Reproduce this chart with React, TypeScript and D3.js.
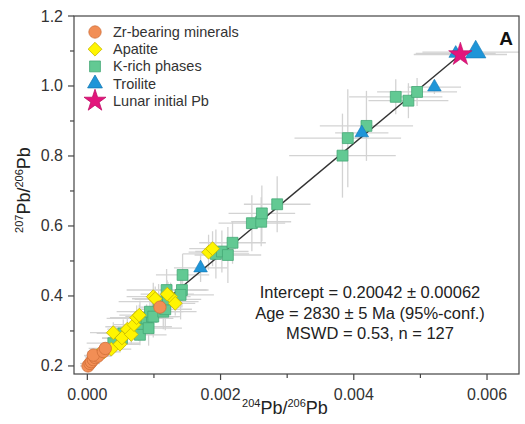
import React from "react";
import * as d3 from "d3";

// ---- data ----
const zrX = [0.00001, 0.00004, 0.00006, 0.00009, 0.00012, 0.00016, 0.00009, 0.00024, 0.00027, 0.00109];
const zrY = [0.200, 0.207, 0.212, 0.218, 0.224, 0.228, 0.231, 0.241, 0.250, 0.368];
const zrXErr = [0.00012, 0.00015, 0.0001, 0.00012, 0.00015, 0.0002, 0.0001, 0.0002, 0.00025, 0.0003];
const zrYErr = [0.008, 0.01, 0.01, 0.01, 0.012, 0.012, 0.01, 0.015, 0.015, 0.03];

const apX = [0.00015, 0.00025, 0.00036, 0.00049, 0.00039, 0.00052, 0.0006, 0.00066, 0.0007, 0.00074, 0.00078, 0.00099, 0.00102, 0.00125, 0.00132, 0.0012, 0.00182, 0.00188];
const apY = [0.230, 0.240, 0.248, 0.262, 0.295, 0.280, 0.305, 0.290, 0.318, 0.338, 0.345, 0.398, 0.392, 0.398, 0.379, 0.405, 0.525, 0.535];
const apXErr = [0.0002, 0.00025, 0.0003, 0.0003, 0.00035, 0.0003, 0.0003, 0.00035, 0.0003, 0.0004, 0.0003, 0.0004, 0.00035, 0.0003, 0.0003, 0.0004, 0.0003, 0.00035];
const apYErr = [0.015, 0.02, 0.02, 0.02, 0.03, 0.025, 0.03, 0.03, 0.03, 0.035, 0.03, 0.04, 0.035, 0.04, 0.035, 0.04, 0.05, 0.05];

const kX = [0.00039, 0.00052, 0.00054, 0.00077, 0.00079, 0.00079, 0.00089, 0.00092, 0.00097, 0.00094, 0.00099, 0.00107, 0.00114, 0.00117, 0.00121, 0.00119, 0.00142, 0.0014, 0.00143, 0.00193, 0.00202, 0.00211, 0.00218, 0.00247, 0.00261, 0.00262, 0.00285, 0.00383, 0.00391, 0.00419, 0.00463, 0.00482, 0.00495];
const kY = [0.265, 0.279, 0.293, 0.312, 0.289, 0.336, 0.336, 0.308, 0.341, 0.355, 0.341, 0.384, 0.355, 0.362, 0.390, 0.417, 0.417, 0.403, 0.460, 0.520, 0.527, 0.517, 0.552, 0.608, 0.612, 0.636, 0.662, 0.801, 0.851, 0.886, 0.969, 0.958, 0.983];
const kXErr = [0.0004, 0.0003, 0.0004, 0.0005, 0.0004, 0.0005, 0.0004, 0.0005, 0.0004, 0.0005, 0.0004, 0.0006, 0.0005, 0.0004, 0.0005, 0.0006, 0.0004, 0.0005, 0.0004, 0.0005, 0.0004, 0.0005, 0.0005, 0.0005, 0.00045, 0.0005, 0.0005, 0.0008, 0.0008, 0.0007, 0.0007, 0.0006, 0.0006];
const kYErr = [0.03, 0.03, 0.04, 0.04, 0.03, 0.05, 0.04, 0.05, 0.05, 0.04, 0.06, 0.05, 0.05, 0.06, 0.05, 0.06, 0.05, 0.07, 0.06, 0.07, 0.06, 0.08, 0.06, 0.08, 0.07, 0.08, 0.08, 0.12, 0.14, 0.1, 0.05, 0.05, 0.04];

const trX = [0.0017, 0.00412, 0.00521, 0.00553, 0.00583];
const trY = [0.480, 0.866, 0.997, 1.093, 1.097];
const trXErr = [0.0004, 0.0004, 0.0004, 0.0006, 0.0008];
const trYErr = [0.04, 0.015, 0.02, 0.01, 0.01];
const trBig = [false, false, false, false, true];

const starX = [0.0056];
const starY = [1.090];
const starXErr = [0.0007];
const starYErr = [0.006];

const interceptY = 0.20042;

const xTicks = [0, 0.002, 0.004, 0.006];
const xMinor = [0.001, 0.003, 0.005];
const yTicks = [0.2, 0.4, 0.6, 0.8, 1.0, 1.2];
const yMinor = [0.3, 0.5, 0.7, 0.9, 1.1];

const legendLabels = ["Zr-bearing minerals", "Apatite", "K-rich phases", "Troilite", "Lunar initial Pb"];
const statLines = ["Intercept = 0.20042 ± 0.00062", "Age = 2830 ± 5 Ma (95%-conf.)", "MSWD = 0.53, n = 127"];

// ---- styles ----
const W = 525, H = 424;
const L = 74, R = 519, T = 16, B = 374;
const FONT = "'Liberation Sans', Arial, sans-serif";
const C = {
  zr: { fill: "#F28E55", stroke: "#D0703A" },
  ap: { fill: "#FFF500", stroke: "#C9B800" },
  k: { fill: "#62C993", stroke: "#45A876" },
  tr: { fill: "#1E95D8", stroke: "#1479B5" },
  st: { fill: "#E3157C", stroke: "#C00E66" },
};

const x = d3.scaleLinear().domain([-0.0002, 0.00648]).range([L, R]);
const y = d3.scaleLinear().domain([0.177, 1.2]).range([B, T]);

const symCircle = d3.symbol().type(d3.symbolCircle).size(120)() as string;
const symDiamond = d3.symbol().type(d3.symbolSquare).size(95)() as string;
const symSquare = d3.symbol().type(d3.symbolSquare).size(118)() as string;
const symTri = d3.symbol().type(d3.symbolTriangle).size(80)() as string;
const symTriBig = d3.symbol().type(d3.symbolTriangle).size(180)() as string;
const symStar = d3.symbol().type(d3.symbolStar).size(170)() as string;

function ErrBars({ xs, ys, xe, ye }: { xs: number[]; ys: number[]; xe: number[]; ye: number[] }) {
  return (
    <g stroke="#d3d3d3" strokeWidth={1.3}>
      {xs.map((v, i) => (
        <g key={i}>
          <line x1={x(v - xe[i])} x2={x(v + xe[i])} y1={y(ys[i])} y2={y(ys[i])} />
          <line x1={x(v)} x2={x(v)} y1={y(ys[i] - ye[i])} y2={y(ys[i] + ye[i])} />
        </g>
      ))}
    </g>
  );
}

export default function App() {
  const lineGen = d3.line<[number, number]>().x((d) => x(d[0])).y((d) => y(d[1]));
  const slope = (starY[0] - interceptY) / starX[0];
  const regPts: [number, number][] = [
    [0, interceptY],
    [starX[0], interceptY + slope * starX[0]],
  ];
  return (
    <svg width={W} height={H} style={{ position: "absolute", left: 0, top: 0, background: "#fff" }} fontFamily={FONT}>
      <defs>
        <clipPath id="plot">
          <rect x={L} y={T} width={R - L} height={B - T} />
        </clipPath>
      </defs>
      <rect x={0} y={0} width={W} height={H} fill="#fff" />
      <g clipPath="url(#plot)">
        <ErrBars xs={kX} ys={kY} xe={kXErr} ye={kYErr} />
        <ErrBars xs={apX} ys={apY} xe={apXErr} ye={apYErr} />
        <ErrBars xs={zrX} ys={zrY} xe={zrXErr} ye={zrYErr} />
        <ErrBars xs={trX} ys={trY} xe={trXErr} ye={trYErr} />
        <ErrBars xs={starX} ys={starY} xe={starXErr} ye={starYErr} />
        <path d={lineGen(regPts) as string} stroke="#333" strokeWidth={1.4} fill="none" />
        {kX.map((v, i) => (
          <path key={"k" + i} d={symSquare} transform={`translate(${x(v)},${y(kY[i])})`} fill={C.k.fill} stroke={C.k.stroke} strokeWidth={0.8} />
        ))}
        {apX.map((v, i) => (
          <path key={"a" + i} d={symDiamond} transform={`translate(${x(v)},${y(apY[i])}) rotate(45)`} fill={C.ap.fill} stroke={C.ap.stroke} strokeWidth={0.8} />
        ))}
        {zrX.map((v, i) => (
          <path key={"z" + i} d={symCircle} transform={`translate(${x(v)},${y(zrY[i])})`} fill={C.zr.fill} stroke={C.zr.stroke} strokeWidth={0.8} />
        ))}
        {trX.map((v, i) => (
          <path key={"t" + i} d={trBig[i] ? symTriBig : symTri} transform={`translate(${x(v)},${y(trY[i])})`} fill={C.tr.fill} stroke={C.tr.stroke} strokeWidth={0.6} />
        ))}
        {starX.map((v, i) => (
          <path key={"s" + i} d={symStar} transform={`translate(${x(v)},${y(starY[i])})`} fill={C.st.fill} stroke={C.st.stroke} strokeWidth={0.6} />
        ))}
      </g>
      {/* frame */}
      <rect x={L} y={T} width={R - L} height={B - T} fill="none" stroke="#444" strokeWidth={1.2} />
      {/* ticks */}
      <g stroke="#444" strokeWidth={1.2}>
        {xTicks.map((t) => (
          <line key={t} x1={x(t)} x2={x(t)} y1={B} y2={B + 6} />
        ))}
        {xMinor.map((t) => (
          <line key={t} x1={x(t)} x2={x(t)} y1={B} y2={B + 4} />
        ))}
        {yTicks.map((t) => (
          <line key={t} x1={L - 6} x2={L} y1={y(t)} y2={y(t)} />
        ))}
        {yMinor.map((t) => (
          <line key={t} x1={L - 4} x2={L} y1={y(t)} y2={y(t)} />
        ))}
      </g>
      <g fill="#333" fontSize={16}>
        {xTicks.map((t) => (
          <text key={t} x={x(t)} y={400} textAnchor="middle">{d3.format(".3f")(t)}</text>
        ))}
        {yTicks.map((t) => (
          <text key={t} x={63} y={y(t) + 5.5} textAnchor="end">{d3.format(".1f")(t)}</text>
        ))}
      </g>
      {/* axis titles */}
      <text x={285} y={414} textAnchor="middle" fontSize={18} fill="#222">
        <tspan fontSize={11} dy={-7}>204</tspan>
        <tspan dy={7}>Pb/</tspan>
        <tspan fontSize={11} dy={-7}>206</tspan>
        <tspan dy={7}>Pb</tspan>
      </text>
      <text transform={`translate(30,190) rotate(-90)`} textAnchor="middle" fontSize={18} fill="#222">
        <tspan fontSize={11} dy={-7}>207</tspan>
        <tspan dy={7}>Pb/</tspan>
        <tspan fontSize={11} dy={-7}>206</tspan>
        <tspan dy={7}>Pb</tspan>
      </text>
      <text x={513} y={45} textAnchor="end" fontSize={19} fontWeight="bold" fill="#111">A</text>
      {/* legend */}
      <g fontSize={14.5} fill="#333">
        {legendLabels.map((lab, i) => {
          const cy = 32 + i * 17.2;
          const sym = [symCircle, symDiamond, symSquare, d3.symbol().type(d3.symbolTriangle).size(95)() as string, d3.symbol().type(d3.symbolStar).size(150)() as string][i];
          const col = [C.zr, C.ap, C.k, C.tr, C.st][i];
          return (
            <g key={lab}>
              <path d={sym} transform={`translate(95,${cy})${i === 1 ? " rotate(45)" : ""}`} fill={col.fill} stroke={col.stroke} strokeWidth={0.8} />
              <text x={113} y={cy + 5}>{lab}</text>
            </g>
          );
        })}
      </g>
      {/* stats */}
      <g fontSize={16.5} fill="#222" textAnchor="middle">
        {statLines.map((s, i) => (
          <text key={i} x={370} y={298 + i * 20.5}>{s}</text>
        ))}
      </g>
    </svg>
  );
}
